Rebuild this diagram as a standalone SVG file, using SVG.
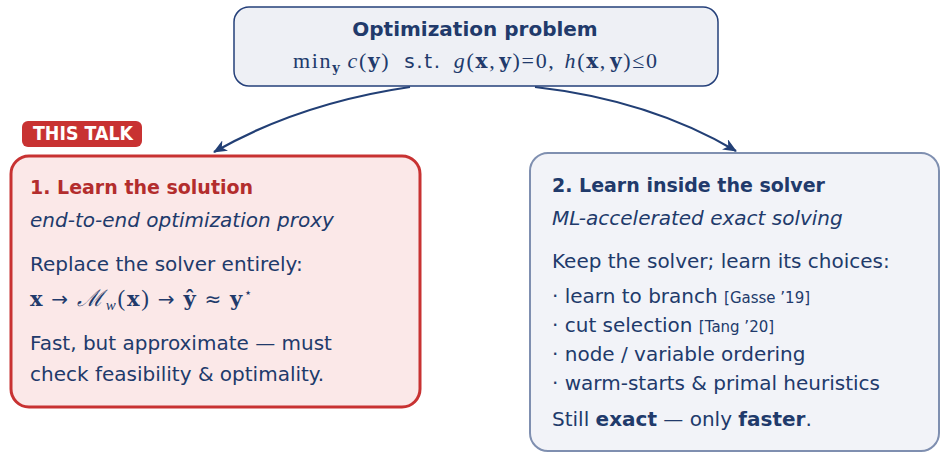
<svg xmlns="http://www.w3.org/2000/svg" width="941" height="453" viewBox="0 0 941 453">
<defs>
<style>
.t{font-family:"DejaVu Sans","Liberation Sans",sans-serif;fill:#213a6b;font-size:20px}
.h{font-size:19px;font-weight:bold}
.b{font-weight:bold}
.i{font-style:italic}
.m{font-family:"Liberation Serif","DejaVu Serif",serif;fill:#213a6b}
.mi{font-family:"Liberation Serif","DejaVu Serif",serif;font-style:italic}
.mb{font-family:"DejaVu Serif","Liberation Serif",serif;font-weight:bold}
.ar{font-family:"DejaVu Sans",sans-serif}
.ref{font-size:15px}
.conn{fill:none;stroke:#223f75;stroke-width:2.2}
</style>
<marker id="ah" viewBox="0 0 14 12" refX="13" refY="6" markerWidth="14" markerHeight="12" markerUnits="userSpaceOnUse" orient="auto">
<path d="M0,0 L14,6 L0,12 L4,6 Z" fill="#223f75"/>
</marker>
</defs>
<g id="connectors">
<path class="conn" d="M410,87 Q300,103 214,152" marker-end="url(#ah)"/>
<path class="conn" d="M535,87 Q650,100 736,151" marker-end="url(#ah)"/>
</g>
<g id="top">
<rect x="234" y="7" width="484" height="79" rx="15" fill="#eef0f5" stroke="#25407a" stroke-width="1.5"/>
<text class="t b" x="475" y="36" text-anchor="middle" font-size="19.5">Optimization problem</text>
<text class="m" x="293" y="68" font-size="22" textLength="364" lengthAdjust="spacing"><tspan>min</tspan><tspan class="mb" font-size="13" dy="4">y</tspan><tspan class="mi" dx="6" dy="-4">c</tspan><tspan>(</tspan><tspan class="mb" font-size="20">y</tspan><tspan>)</tspan><tspan class="t" font-size="17" dx="14">s.t.</tspan><tspan class="mi" dx="12">g</tspan><tspan>(</tspan><tspan class="mb" font-size="20">x</tspan><tspan>,</tspan><tspan class="mb" font-size="20" dx="3">y</tspan><tspan>)=0,</tspan><tspan class="mi" dx="9">h</tspan><tspan>(</tspan><tspan class="mb" font-size="20">x</tspan><tspan>,</tspan><tspan class="mb" font-size="20" dx="3">y</tspan><tspan>)≤0</tspan></text>
</g>
<g id="left">
<rect x="11" y="156" width="409" height="251" rx="18" fill="#fbe8e8" stroke="#c83232" stroke-width="3"/>
<text class="t h" x="30" y="194" style="fill:#b32d2d">1. Learn the solution</text>
<text class="t i" x="30" y="227">end-to-end optimization proxy</text>
<text class="t" x="30" y="271">Replace the solver entirely:</text>
<text class="m" x="30" y="306" font-size="23" textLength="222" lengthAdjust="spacing"><tspan class="mb" font-size="21">x</tspan><tspan class="ar" dx="7" font-size="20">→</tspan><tspan class="mi" dx="7">ℳ</tspan><tspan class="mi" font-size="15" dy="4">w</tspan><tspan dy="-4">(</tspan><tspan class="mb" font-size="21">x</tspan><tspan>)</tspan><tspan class="ar" dx="7" font-size="20">→</tspan><tspan class="mb" dx="7" font-size="21">ŷ</tspan><tspan class="ar" dx="7" font-size="20">≈</tspan><tspan class="mb" dx="7" font-size="21">y</tspan><tspan font-size="13" dy="-9">⋆</tspan></text>
<text class="t" x="30" y="350">Fast, but approximate — must</text>
<text class="t" x="30" y="381">check feasibility &amp; optimality.</text>
</g>
<g id="badge">
<rect x="22" y="121" width="120" height="26" rx="6" fill="#c83232"/>
<text class="t b" x="33" y="139.5" font-size="14" textLength="100" lengthAdjust="spacingAndGlyphs" style="fill:#ffffff">THIS TALK</text>
</g>
<g id="right">
<rect x="530" y="153" width="409" height="298" rx="18" fill="#f2f3f8" stroke="#7f8fb0" stroke-width="2"/>
<text class="t h" x="552" y="192">2. Learn inside the solver</text>
<text class="t i" x="552" y="225">ML-accelerated exact solving</text>
<text class="t" x="552" y="268">Keep the solver; learn its choices:</text>
<text class="t" x="552" y="303">· learn to branch <tspan class="ref">[Gasse ’19]</tspan></text>
<text class="t" x="552" y="332">· cut selection <tspan class="ref">[Tang ’20]</tspan></text>
<text class="t" x="552" y="361">· node / variable ordering</text>
<text class="t" x="552" y="390">· warm-starts &amp; primal heuristics</text>
<text class="t" x="552" y="426">Still <tspan class="b">exact</tspan> — only <tspan class="b">faster</tspan>.</text>
</g>
</svg>
